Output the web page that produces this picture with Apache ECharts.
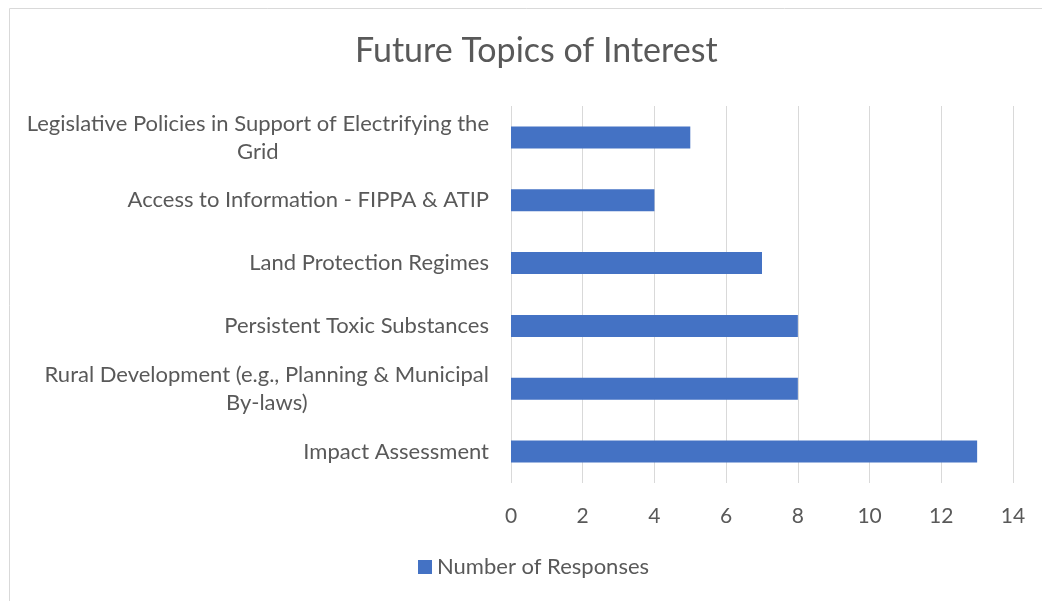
<!DOCTYPE html>
<html>
<head>
<meta charset="utf-8">
<script src="https://cdn.jsdelivr.net/npm/echarts@6/dist/echarts.min.js"></script>
<style>
  html, body { margin: 0; padding: 0; background: #fff; }
  #main { width: 1042px; height: 601px; }
</style>
</head>
<body>
<div id="main"></div>
<script>
// top to bottom, as shown
var topics = [
  ['Legislative Policies in Support of Electrifying the', 'Grid'],
  ['Access to Information - FIPPA & ATIP'],
  ['Land Protection Regimes'],
  ['Persistent Toxic Substances'],
  ['Rural Development (e.g., Planning & Municipal', 'By-laws)'],
  ['Impact Assessment']
];
var responses = [5, 4, 7, 8, 8, 13];
var xTicks = [0, 14, 2]; // min, max, interval

var chartDom = document.getElementById('main');
var myChart = echarts.init(chartDom);
var font = 'Lato, "Open Sans", sans-serif';

var option = {
  textStyle: { fontFamily: font },
  graphic: [{
    type: 'rect',
    left: 7, top: 6,
    shape: { width: 1060, height: 620 },
    style: { fill: 'none', stroke: '#d9d9d9', lineWidth: 1 },
    silent: true
  }],
  title: {
    text: 'Future Topics of Interest',
    left: 350,
    top: 29,
    textStyle: { fontFamily: font, fontSize: 34, fontWeight: 'normal', color: '#595959' }
  },
  legend: {
    data: ['Number of Responses'],
    bottom: 18,
    left: 413,
    itemWidth: 14,
    itemHeight: 14,
    icon: 'rect',
    textStyle: { fontFamily: font, fontSize: 22, color: '#595959' }
  },
  grid: { left: 511, right: 29, top: 106, bottom: 118 },
  xAxis: {
    type: 'value',
    min: xTicks[0],
    max: xTicks[1],
    interval: xTicks[2],
    axisLine: { show: false },
    axisTick: { show: false },
    splitLine: { lineStyle: { color: '#d9d9d9', width: 1 } },
    axisLabel: { color: '#595959', fontSize: 21, margin: 23, fontFamily: font }
  },
  yAxis: {
    type: 'category',
    inverse: true,
    data: topics.map(function (t) { return t.join('\n'); }),
    axisLine: { show: false },
    axisTick: { show: false },
    axisLabel: {
      color: '#595959',
      fontSize: 22,
      margin: 22,
      lineHeight: 28,
      fontFamily: font,
      formatter: function (v) {
        return v.split('\n').map(function (l) { return '{c|' + l + '}'; }).join('\n');
      },
      rich: {
        c: { align: 'center', fontSize: 22, lineHeight: 28, color: '#595959', fontFamily: font }
      }
    }
  },
  series: [{
    name: 'Number of Responses',
    type: 'bar',
    data: responses,
    barWidth: 22,
    itemStyle: { color: '#4472C4' }
  }]
};

option && myChart.setOption(option);
</script>
</body>
</html>
